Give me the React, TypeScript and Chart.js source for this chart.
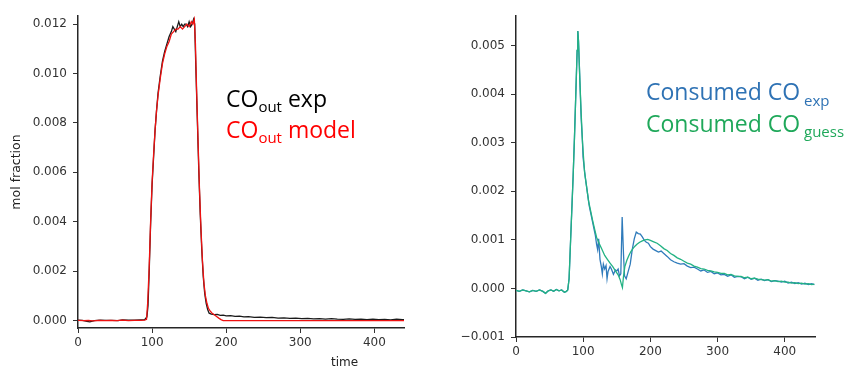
import React, { useEffect, useRef } from "react";
import { Chart, registerables } from "chart.js";

Chart.register(...registerables);

// ---------- Left panel: CO_out ----------
const LEFT_T_EXP = [0, 6, 12, 16, 22, 30, 38, 46, 54, 60, 68, 76, 84, 90, 93, 94.5, 96, 98, 100, 102, 104, 106, 108, 111, 114, 117, 120, 123, 126, 128, 130, 132, 134, 136, 138, 140, 142, 144, 146, 148, 150, 152, 154, 156, 157.5, 159, 161, 163, 165, 167, 169, 171, 173, 175, 177, 180, 184, 188, 192, 196, 200, 206, 212, 218, 224, 230, 238, 246, 254, 262, 270, 278, 286, 294, 302, 310, 318, 326, 334, 342, 350, 358, 366, 374, 382, 390, 398, 406, 414, 422, 430, 438, 441];
const LEFT_EXP = [0.00002, 0.00001, -0.00003, -0.00005, 0.0, 0.00002, 0.00001, 0.00001, 0.0, 0.00003, 0.00002, 0.00002, 0.00003, 0.00004, 0.00015, 0.0006, 0.0019, 0.0039, 0.0055, 0.0066, 0.0077, 0.0085, 0.0092, 0.0099, 0.0105, 0.0109, 0.0112, 0.0115, 0.0117, 0.0119, 0.0118, 0.0117, 0.0119, 0.0121, 0.0119, 0.012, 0.0119, 0.012, 0.012, 0.0119, 0.0121, 0.0119, 0.012, 0.0122, 0.012, 0.0103, 0.0082, 0.0061, 0.0043, 0.0029, 0.0018, 0.0011, 0.0007, 0.00045, 0.0003, 0.00026, 0.00024, 0.00025, 0.00021, 0.00022, 0.00019, 0.0002, 0.00017, 0.00018, 0.00015, 0.00016, 0.00013, 0.00014, 0.00012, 0.00013, 0.0001, 0.00011, 0.00009, 0.0001, 0.00008, 0.00009, 0.00007, 0.00008, 0.00006, 0.00008, 0.00006, 0.00005, 0.00007, 0.00005, 0.00006, 0.00004, 0.00006, 0.00004, 0.00005, 0.00003, 0.00006, 0.00004, 0.00003];

const LEFT_T_MODEL = [0, 8, 14, 20, 28, 36, 44, 52, 60, 68, 76, 84, 90, 92.5, 94, 96, 98, 100, 102, 104, 106, 108, 111, 114, 117, 120, 123, 126, 129, 132, 135, 138, 141, 144, 147, 150, 153, 155, 157, 158.5, 160, 162, 164, 166, 168, 170, 172, 174, 176, 178, 181, 184, 187, 190, 193, 196, 210, 230, 250, 270, 290, 310, 330, 350, 370, 390, 410, 430, 441];
const LEFT_MODEL = [0.00001, 0.0, 0.00001, -0.00001, 0.00001, 0.0, 0.00001, 0.0, 0.00002, 0.0, 0.00001, 0.00001, 0.00002, 0.00005, 0.0007, 0.0021, 0.004, 0.0056, 0.0067, 0.0077, 0.0085, 0.0091, 0.0098, 0.0104, 0.0108, 0.0111, 0.0113, 0.0116, 0.0117, 0.0118, 0.0118, 0.0119, 0.0118, 0.0119, 0.012, 0.0119, 0.0121, 0.012, 0.0122, 0.0112, 0.0094, 0.0073, 0.0053, 0.0037, 0.0024, 0.0015, 0.001, 0.0007, 0.0005, 0.0004, 0.0003, 0.00024, 0.00017, 0.0001, 0.00004, 0.0, 0.0, 0.0, 0.0, 0.0, 0.0, 0.0, 0.0, 0.0, 0.0, 0.0, 0.0, 0.0, 0.0];

const LEFT_X_TICKS = [0, 100, 200, 300, 400];
const LEFT_Y_TICKS = [0, 0.002, 0.004, 0.006, 0.008, 0.01, 0.012];

// ---------- Right panel: Consumed CO ----------
const RIGHT_T_EXP = [0, 5, 10, 15, 20, 25, 30, 35, 40, 44, 48, 52, 56, 60, 64, 68, 72, 75, 77, 79, 81, 83, 85, 87, 89, 91, 92, 93, 95, 97, 99, 99.8, 101, 103, 106, 109, 112, 115, 118, 120, 121.5, 123, 125, 127, 128.5, 130, 132, 134, 135.5, 137, 140, 142, 145, 148, 150, 152, 154, 156, 158, 160, 161.5, 164, 167, 170, 173, 176, 179, 182, 185, 188, 191, 194, 197, 200, 204, 208, 212, 216, 220, 225, 230, 235, 240, 245, 250, 255, 260, 265, 270, 275, 280, 285, 290, 295, 300, 305, 310, 315, 320, 325, 330, 335, 340, 345, 350, 355, 360, 365, 370, 375, 380, 385, 390, 395, 400, 405, 410, 415, 420, 425, 430, 435, 440, 444];
const RIGHT_EXP = [-0.00004, -0.00006, -0.00003, -0.00005, -0.00007, -0.00004, -0.00006, -0.00003, -0.00006, -0.0001, -0.00005, -0.00003, -0.00006, -0.00002, -0.00005, -0.00003, -0.00008, -0.00006, -0.00003, 0.0002, 0.0009, 0.0016, 0.0023, 0.0031, 0.004, 0.0049, 0.0053, 0.0051, 0.0043, 0.0035, 0.003, 0.0027, 0.0027, 0.0023, 0.002, 0.0017, 0.0015, 0.0013, 0.0011, 0.0009, 0.0008, 0.00102, 0.0006, 0.00045, 0.0003, 0.0005, 0.0004, 0.00047, 0.0002, 0.00035, 0.00045, 0.0004, 0.00029, 0.00038, 0.00036, 0.0004, 0.00026, 0.0003, 0.00147, 0.0007, 0.00026, 0.0002, 0.00035, 0.0005, 0.0008, 0.00102, 0.00116, 0.00113, 0.00112, 0.00106, 0.00099, 0.00095, 0.00093, 0.00086, 0.00081, 0.00078, 0.00075, 0.00077, 0.00072, 0.00066, 0.00059, 0.00055, 0.00052, 0.0005, 0.00051, 0.00046, 0.00043, 0.00044, 0.0004, 0.00036, 0.00038, 0.00033, 0.00035, 0.0003, 0.00032, 0.00028, 0.00029, 0.00025, 0.00028, 0.00023, 0.00025, 0.00024, 0.0002, 0.00023, 0.00019, 0.00021, 0.00017, 0.00019, 0.00016, 0.00018, 0.00014, 0.00016, 0.00015, 0.00013, 0.00015, 0.00011, 0.00013, 0.0001, 0.00012, 0.00009, 0.00011, 0.00008, 0.0001, 0.00008];

const RIGHT_T_GUESS = [0, 5, 10, 15, 20, 25, 30, 35, 40, 44, 48, 52, 56, 60, 64, 68, 72, 75, 77, 79, 81, 83, 85, 87, 89, 91, 92, 93, 95, 97, 99, 102, 105, 108, 111, 114, 117, 120, 124, 128, 132, 136, 140, 144, 148, 152, 155, 157, 158.4, 160, 162, 165, 168, 171, 174, 177, 180, 184, 188, 192, 196, 200, 205, 210, 215, 220, 225, 230, 235, 240, 245, 250, 255, 260, 265, 270, 275, 280, 285, 290, 295, 300, 305, 310, 315, 320, 325, 330, 335, 340, 345, 350, 355, 360, 365, 370, 375, 380, 385, 390, 395, 400, 405, 410, 415, 420, 425, 430, 435, 440, 444];
const RIGHT_GUESS = [-0.00004, -0.00006, -0.00003, -0.00005, -0.00007, -0.00004, -0.00006, -0.00003, -0.00006, -0.0001, -0.00005, -0.00003, -0.00006, -0.00002, -0.00005, -0.00003, -0.00008, -0.00006, -0.00003, 0.0002, 0.0009, 0.0016, 0.0023, 0.0031, 0.004, 0.0049, 0.0053, 0.0051, 0.0043, 0.0036, 0.003, 0.0024, 0.0021, 0.0018, 0.0016, 0.0014, 0.00122, 0.00105, 0.00092, 0.0008, 0.00068, 0.0006, 0.00052, 0.00045, 0.00036, 0.00028, 0.00018, 0.00008, 0.00002, 0.00025, 0.00045, 0.00058, 0.00068, 0.00076, 0.00082, 0.00087, 0.00091, 0.00095, 0.00098, 0.001, 0.00101, 0.00099, 0.00096, 0.00093, 0.00088, 0.00082, 0.00078, 0.00072, 0.00068, 0.00063, 0.0006, 0.00056, 0.00052, 0.0005, 0.00046, 0.00044, 0.00041, 0.0004, 0.00037, 0.00036, 0.00034, 0.00033, 0.00031, 0.00031, 0.00028, 0.00029, 0.00026, 0.00025, 0.00025, 0.00022, 0.00023, 0.0002, 0.00021, 0.00019, 0.00018, 0.00017, 0.00018, 0.00015, 0.00016, 0.00014, 0.00015, 0.00013, 0.00013, 0.00011, 0.00012, 0.0001, 0.00011, 0.00009, 0.0001, 0.00008, 0.00009];

const RIGHT_X_TICKS = [0, 100, 200, 300, 400];
const RIGHT_Y_TICKS = [-0.001, 0, 0.001, 0.002, 0.003, 0.004, 0.005];

const TICK_FONT = { family: "DejaVu Sans", size: 12 };
const TICK_COLOR = "#333";
const AXIS_COLOR = "#262626";

function pts(t: number[], v: number[]) {
  return t.map((x, i) => ({ x, y: v[i] }));
}

function fmt(v: number) {
  const s = Math.abs(v).toFixed(3);
  return v < -1e-9 ? "\u2212" + s : s;
}

type Part = { text: string; size: number; dy: number };

function drawParts(ctx: CanvasRenderingContext2D, x: number, y: number, color: string, parts: Part[]) {
  ctx.save();
  ctx.fillStyle = color;
  ctx.textBaseline = "alphabetic";
  ctx.textAlign = "left";
  let cx = x;
  for (const p of parts) {
    ctx.font = `${p.size}px "Open Sans"`;
    ctx.fillText(p.text, cx, y + p.dy);
    cx += ctx.measureText(p.text).width;
  }
  ctx.restore();
}

function axisCommon(ticksArr: number[], min: number, max: number, isY: boolean, fixedSize: number, labelPad: number) {
  return {
    type: "linear" as const,
    min,
    max,
    afterBuildTicks: (s: any) => {
      s.ticks = ticksArr.map((value) => ({ value }));
    },
    afterFit: (s: any) => {
      if (isY) s.width = fixedSize;
      else s.height = fixedSize;
      s.paddingLeft = 0;
      s.paddingRight = 0;
      s.paddingTop = 0;
      s.paddingBottom = 0;
    },
    grid: {
      display: true,
      drawOnChartArea: false,
      drawTicks: true,
      tickLength: 5,
      tickColor: TICK_COLOR,
      tickWidth: 1,
    },
    border: { display: true, color: AXIS_COLOR, width: 1.5 },
    ticks: {
      font: TICK_FONT,
      color: TICK_COLOR,
      padding: labelPad,
      maxRotation: 0,
      autoSkip: false,
      callback: (v: any) => (isY ? fmt(Number(v)) : String(Math.round(Number(v)))),
    },
  };
}

function LeftChart() {
  const ref = useRef<HTMLCanvasElement>(null);
  useEffect(() => {
    const textPlugin = {
      id: "leftText",
      afterDraw(chart: any) {
        const ctx = chart.ctx as CanvasRenderingContext2D;
        ctx.save();
        ctx.font = '12px "DejaVu Sans"';
        ctx.fillStyle = "#222";
        ctx.textBaseline = "alphabetic";
        ctx.fillText("time", 331, 366);
        ctx.restore();
        drawParts(ctx, 226, 107, "#000000", [
          { text: "CO", size: 23, dy: 0 },
          { text: "out", size: 15, dy: 4.5 },
          { text: " exp", size: 23, dy: 0 },
        ]);
        drawParts(ctx, 226, 138, "#ff0000", [
          { text: "CO", size: 23, dy: 0 },
          { text: "out", size: 15, dy: 4.5 },
          { text: " model", size: 23, dy: 0 },
        ]);
      },
    };
    const yAxis: any = axisCommon(LEFT_Y_TICKS, -0.0003, 0.01233, true, 78, 6);
    yAxis.title = {
      display: true,
      text: "mol fraction",
      font: { family: "DejaVu Sans", size: 12.5 },
      color: "#222",
      padding: { top: 9, bottom: 0 },
    };
    const chart = new Chart(ref.current!, {
      type: "line",
      data: {
        datasets: [
          {
            label: "CO_out exp",
            data: pts(LEFT_T_EXP, LEFT_EXP),
            borderColor: "#1a1a1a",
            borderWidth: 1.3,
            pointRadius: 0,
            tension: 0,
            fill: false,
            order: 2,
          },
          {
            label: "CO_out model",
            data: pts(LEFT_T_MODEL, LEFT_MODEL),
            borderColor: "#ee1111",
            borderWidth: 1.3,
            pointRadius: 0,
            tension: 0,
            fill: false,
            order: 1,
          },
        ],
      },
      options: {
        responsive: false,
        animation: false,
        layout: { padding: { top: 16, right: 16, left: 0, bottom: 0 } },
        plugins: { legend: { display: false }, tooltip: { enabled: false } },
        scales: {
          x: axisCommon(LEFT_X_TICKS, 0, 440, false, 39, 3) as any,
          y: yAxis,
        },
      },
      plugins: [textPlugin],
    });
    return () => chart.destroy();
  }, []);
  return (
    <canvas
      ref={ref}
      width={420}
      height={367}
      style={{ position: "absolute", left: 0, top: 0, width: 420, height: 367 }}
    />
  );
}

function RightChart() {
  const ref = useRef<HTMLCanvasElement>(null);
  useEffect(() => {
    const textPlugin = {
      id: "rightText",
      afterDraw(chart: any) {
        const ctx = chart.ctx as CanvasRenderingContext2D;
        drawParts(ctx, 216, 100, "#2e72b4", [
          { text: "Consumed CO", size: 23, dy: 0 },
          { text: " exp", size: 15, dy: 5.5 },
        ]);
        drawParts(ctx, 216, 131.7, "#1fa85a", [
          { text: "Consumed CO", size: 23, dy: 0 },
          { text: " guess", size: 15, dy: 5 },
        ]);
      },
    };
    const chart = new Chart(ref.current!, {
      type: "line",
      data: {
        datasets: [
          {
            label: "Consumed CO exp",
            data: pts(RIGHT_T_EXP, RIGHT_EXP),
            borderColor: "#2f7bbb",
            borderWidth: 1.3,
            pointRadius: 0,
            tension: 0,
            fill: false,
            order: 2,
          },
          {
            label: "Consumed CO guess",
            data: pts(RIGHT_T_GUESS, RIGHT_GUESS),
            borderColor: "#22b283",
            borderWidth: 1.3,
            pointRadius: 0,
            tension: 0,
            fill: false,
            order: 1,
          },
        ],
      },
      options: {
        responsive: false,
        animation: false,
        layout: { padding: { top: 16, right: 32, left: 0, bottom: 0 } },
        plugins: { legend: { display: false }, tooltip: { enabled: false } },
        scales: {
          x: axisCommon(RIGHT_X_TICKS, 0, 445, false, 30, 3) as any,
          y: axisCommon(RIGHT_Y_TICKS, -0.001, 0.00561, true, 86, 6) as any,
        },
      },
      plugins: [textPlugin],
    });
    return () => chart.destroy();
  }, []);
  return (
    <canvas
      ref={ref}
      width={417}
      height={367}
      style={{ position: "absolute", left: 430, top: 0, width: 417, height: 367 }}
    />
  );
}

export default function App() {
  return (
    <div
      style={{
        position: "absolute",
        left: 0,
        top: 0,
        width: 847,
        height: 367,
        background: "#ffffff",
        overflow: "hidden",
      }}
    >
      <LeftChart />
      <RightChart />
    </div>
  );
}
